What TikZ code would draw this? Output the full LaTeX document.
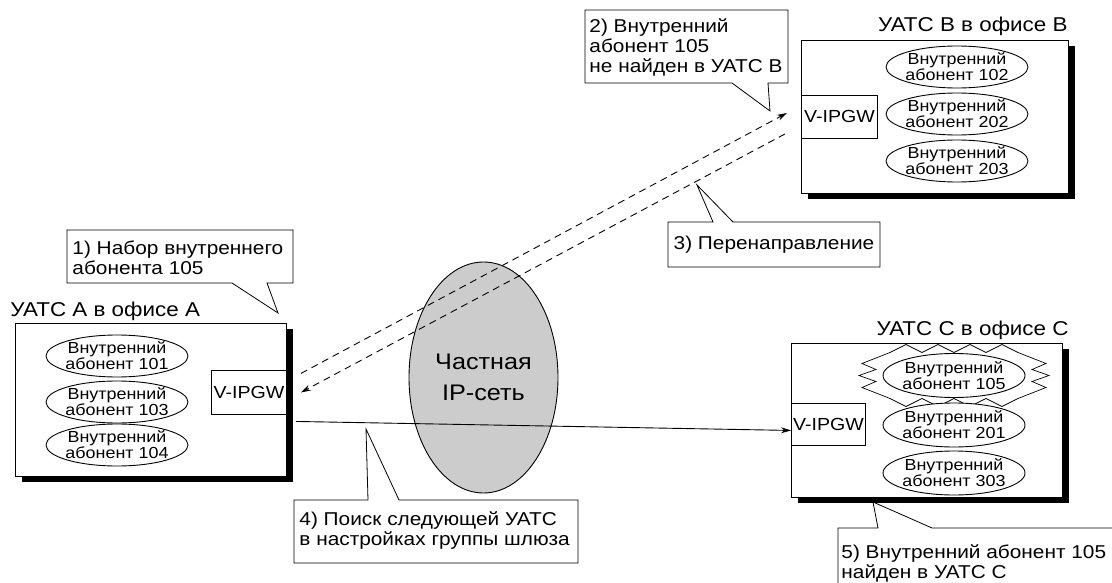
\documentclass[tikz,border=0pt]{standalone}
\usepackage{fontspec}
\setmainfont[FakeStretch=1.12]{Liberation Sans}
\usetikzlibrary{arrows.meta,calc,shapes.geometric,shadows}
\begin{document}
\begin{tikzpicture}[x=1pt,y=-1pt,line width=0.9pt,
  pbx/.style={draw,fill=white,inner sep=0pt,anchor=north west,
    drop shadow={shadow xshift=7pt,shadow yshift=-6pt,fill=black,opacity=1}},
  gw/.style={draw,fill=white,inner sep=0pt,anchor=north west,font=\fontsize{17.5}{20}\selectfont},
  subtxt/.style={align=center,inner sep=0pt,font=\fontsize{16}{16}\selectfont},
  title/.style={inner sep=0pt,font=\fontsize{20}{22}\selectfont},
  ctxt/.style={inner sep=0pt,align=left,font=\fontsize{18.6}{20}\selectfont},
  callout/.style={draw,fill=white,line width=0.8pt},
  darr/.style={dash pattern=on 7pt off 5pt,-{Stealth[length=10pt,width=6pt]}},
  sarr/.style={-{Stealth[length=10pt,width=6pt]}}]
\useasboundingbox (0,0) rectangle (1112,583);
\clip (0,0) rectangle (1112,583);

% ---------- PBX A ----------
\node[title,anchor=base west] (tA) at (10,316) {УАТС А в офисе А};
\node[pbx,minimum width=271pt,minimum height=153pt] (boxA) at (15,323) {};
\node[gw,minimum width=75pt,minimum height=44pt] (gwA) at (211,370) {V-IPGW};
\foreach \n/\x/\y/\t in {a1/117/356/101,a2/117/402/103,a3/117/445/104}{
  \draw (\x,\y) ellipse [x radius=71, y radius=21];
  \node[subtxt] (\n) at (\x,\y) {Внутренний\\абонент \t};
}

% ---------- PBX B ----------
\node[title,anchor=base east] (tB) at (1068,32) {УАТС В в офисе В};
\node[pbx,minimum width=267pt,minimum height=153pt] (boxB) at (801,40) {};
\node[gw,minimum width=76pt,minimum height=43pt] (gwB) at (801,95) {V-IPGW};
\foreach \n/\x/\y/\t in {b1/957/67/102,b2/957/114/202,b3/957/161/203}{
  \draw (\x,\y) ellipse [x radius=71, y radius=21];
  \node[subtxt] (\n) at (\x,\y) {Внутренний\\абонент \t};
}

% ---------- PBX C ----------
\node[title,anchor=base east] (tC) at (1069,335) {УАТС С в офисе С};
\node[pbx,minimum width=271pt,minimum height=154pt] (boxC) at (791,343) {};
\node[gw,minimum width=74pt,minimum height=42pt] (gwC) at (791,403) {V-IPGW};
\draw[fill=white,line width=0.7pt,shift={(954,375.5)}]
  (-64,-23) -- (-48,-31) -- (-32,-23) -- (-16,-31) -- (0,-23) -- (16,-31) -- (32,-23) -- (48,-31) -- (64,-23)
  -- (92,-12) -- (78,-6) -- (95,0) -- (78,6) -- (92,12) -- (64,23)
  -- (48,31) -- (32,23) -- (16,31) -- (0,23) -- (-16,31) -- (-32,23) -- (-48,31) -- (-64,23)
  -- (-92,12) -- (-78,6) -- (-95,0) -- (-78,-6) -- (-92,-12) -- cycle;
\foreach \n/\x/\y/\t in {c1/954/375.5/105,c2/954/425/201,c3/954/473/303}{
  \draw[fill=white] (\x,\y) ellipse [x radius=71, y radius=22];
  \node[subtxt] (\n) at (\x,\y) {Внутренний\\абонент \t};
}

% ---------- network ----------
\node[draw,fill=gray!40,ellipse,minimum width=149pt,minimum height=231pt,inner sep=0pt,
  align=center,font=\fontsize{22.5}{31}\selectfont] (net) at (483.5,377.5) {Частная\\IP-сеть};

% ---------- connectors ----------
\coordinate (pA1) at ($(gwA.east)+(14,-19)$);
\coordinate (pA2) at ($(gwA.east)+(14,0)$);
\coordinate (pA3) at ($(gwA.east)+(9,29)$);
\coordinate (pB1) at ($(gwB.west)+(-14,-4)$);
\coordinate (pB2) at ($(gwB.west)+(-16,17)$);
\coordinate (pC1) at ($(gwC.west)+(0,6)$);
\draw[darr] (pA1) -- (pB1);
\draw[darr] (pB2) -- (pA2);
\draw[sarr] (pA3) -- (pC1);

% ---------- callouts ----------
\draw[callout] (67,230) -- (293,230) -- (293,283) -- (267,283) -- (278,313) -- (232,283) -- (67,283) -- cycle;
\node[ctxt,anchor=west] (n1) at (72,258) {1) Набор внутреннего\\абонента 105};

\draw[callout] (585,10) -- (788,10) -- (788,83) -- (768,83) -- (770,111) -- (732,83) -- (585,83) -- cycle;
\node[ctxt,anchor=west] (n2) at (589,47) {2) Внутренний\\абонент 105\\не найден в УАТС В};

\draw[callout] (668,222) -- (713,222) -- (697,185) -- (733,222) -- (880,222) -- (880,267) -- (668,267) -- cycle;
\node[ctxt] (n3) at (774,245) {3) Перенаправление};

\draw[callout] (294,500) -- (368,500) -- (366,429) -- (399,500) -- (578,500) -- (578,563) -- (294,563) -- cycle;
\node[ctxt,anchor=west] (n4) at (299,531) {4) Поиск следующей УАТС\\в настройках группы шлюза};

\draw[callout] (838,528) -- (878,528) -- (873,502) -- (932,528) -- (1130,528) -- (1130,600) -- (838,600) -- cycle;
\node[ctxt,anchor=west] (n5) at (841,563) {5) Внутренний абонент 105\\найден в УАТС С};
\end{tikzpicture}
\end{document}
